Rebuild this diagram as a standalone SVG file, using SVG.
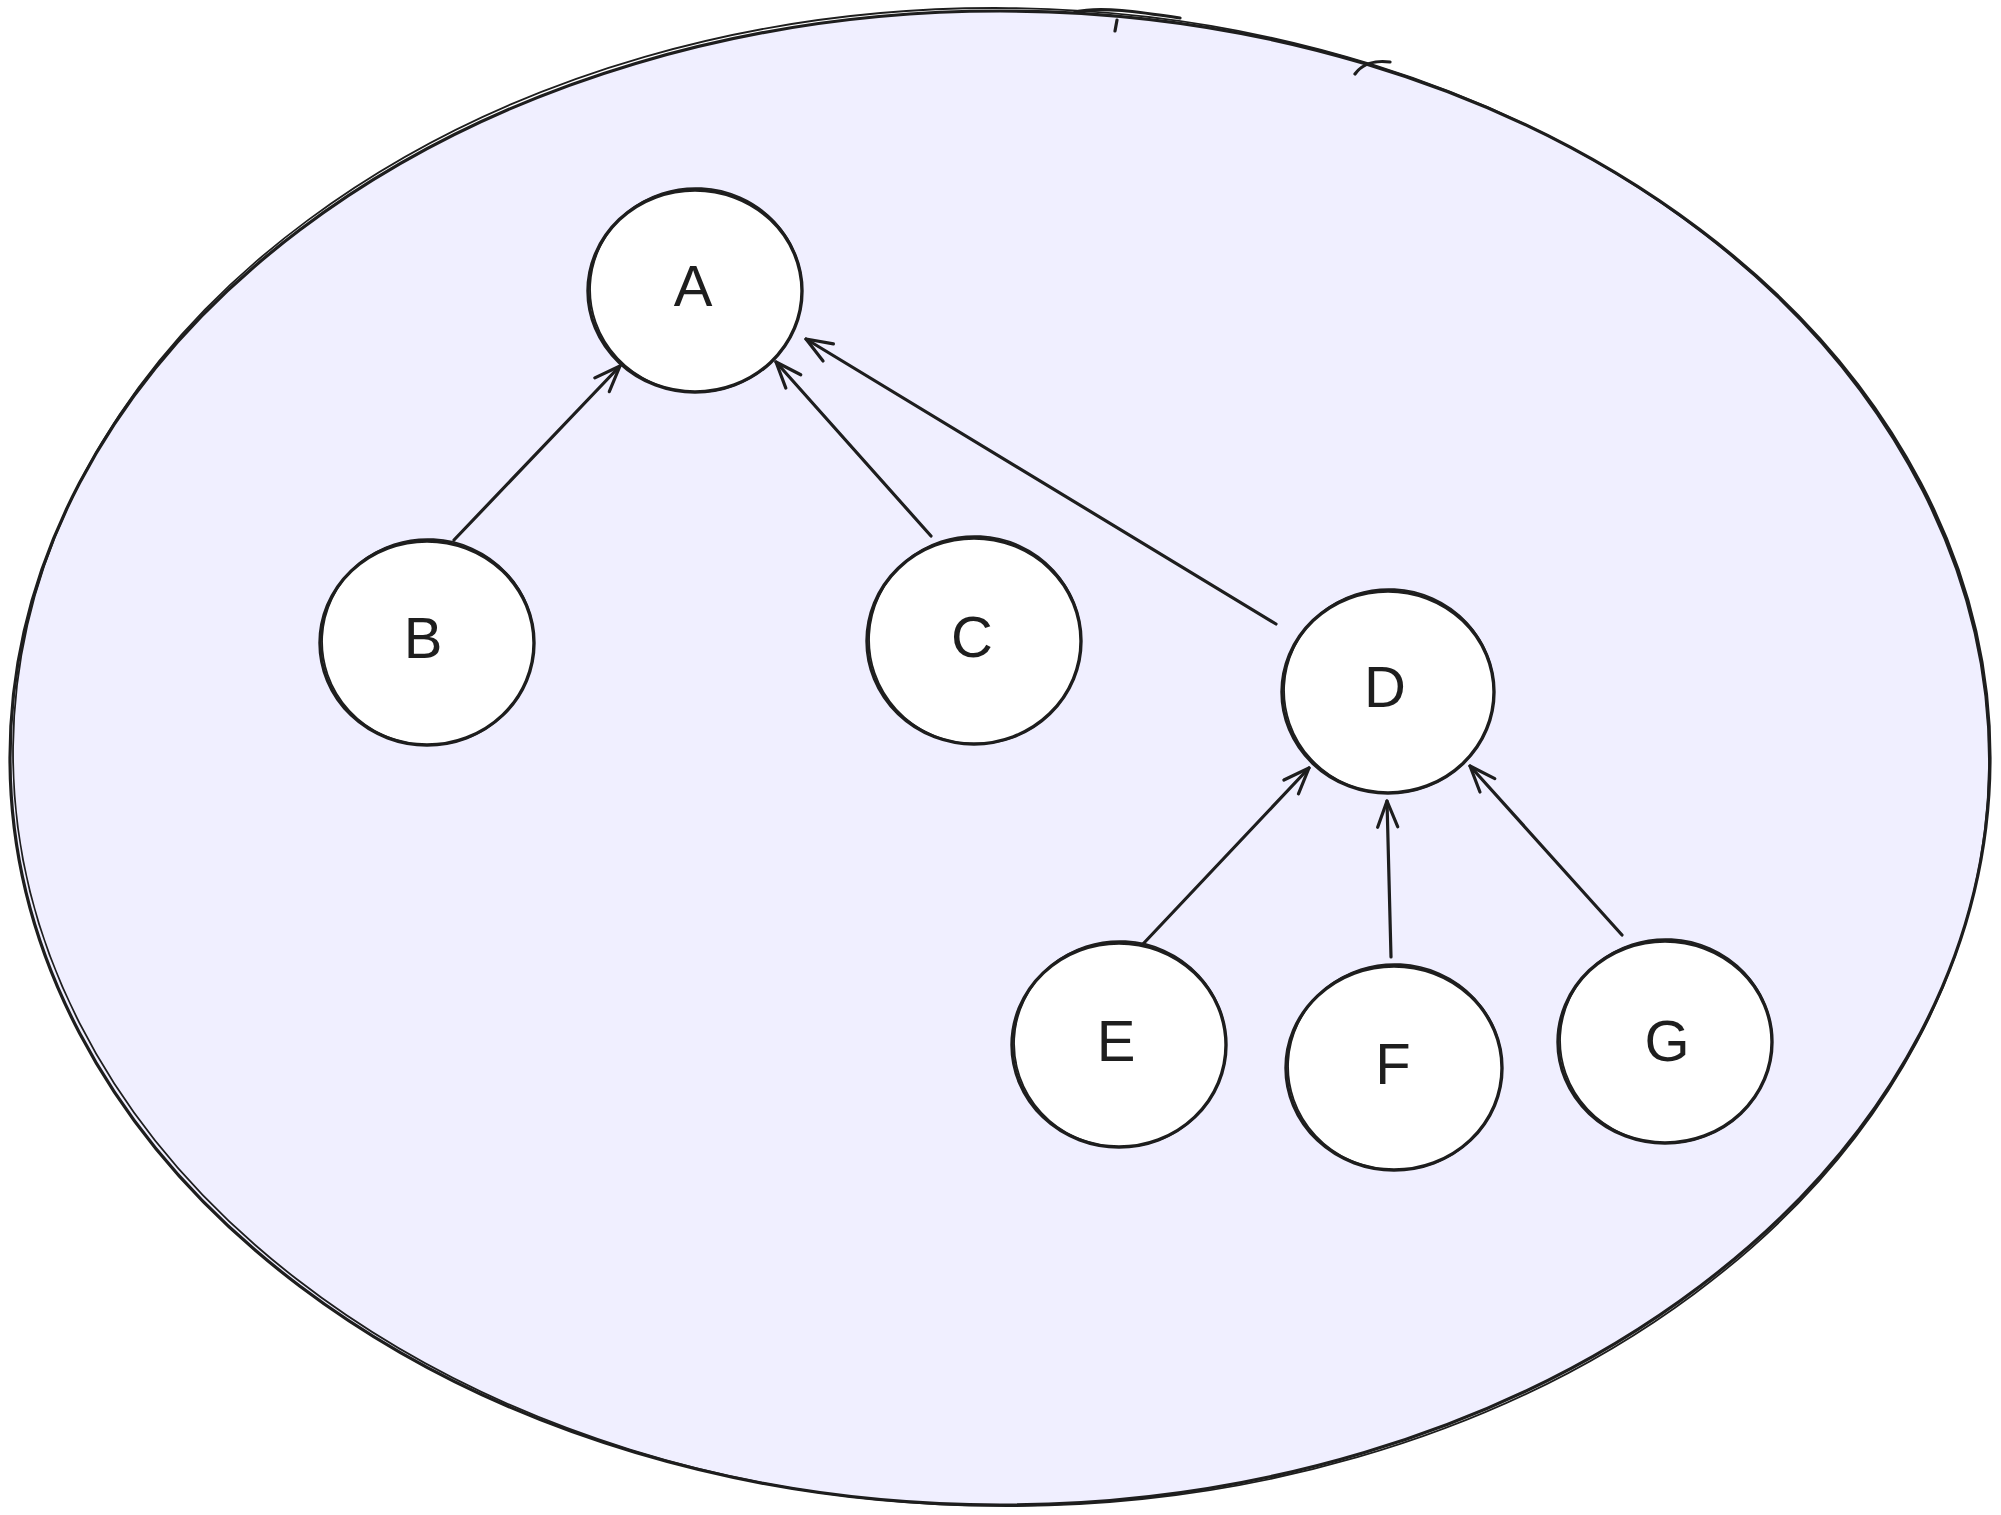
<svg xmlns="http://www.w3.org/2000/svg" width="2001" height="1515" viewBox="0 0 2001 1515">
  <style>
    .ink { fill: none; stroke: #1e1e1e; stroke-width: 3.2; stroke-linecap: round; stroke-linejoin: round; }
    .node { fill: #ffffff; stroke: #1e1e1e; stroke-width: 3.4; }
    .node2 { fill: none; stroke: #1e1e1e; stroke-width: 1.8; }
    .lbl { font-family: "Liberation Sans", Arial, sans-serif; font-size: 58px; fill: #1e1e1e; text-anchor: middle; dominant-baseline: central; }
  </style>
  <defs>
    <marker id="open" viewBox="0 0 30 24" refX="28" refY="12" markerWidth="30" markerHeight="24" markerUnits="userSpaceOnUse" orient="auto">
      <path d="M2 2 L28 12 L2 22" fill="none" stroke="#1e1e1e" stroke-width="3.2" stroke-linecap="round" stroke-linejoin="round"/>
    </marker>
  </defs>
  <rect width="2001" height="1515" fill="#ffffff"/>

  <!-- outer boundary -->
  <g id="boundary">
    <ellipse cx="1000" cy="758" rx="990" ry="747" fill="#f0efff" stroke="#1e1e1e" stroke-width="3.2"/>
    <ellipse cx="1001" cy="757" rx="988" ry="749" transform="rotate(0.6 1000 758)" fill="none" stroke="#1e1e1e" stroke-width="1.8"/>
    <path class="ink" d="M1075 12 C1100 6 1140 12 1180 18 M1117 20 L1115 31 M1355 74 C1362 64 1375 60 1390 62"/>
  </g>

  <!-- connectors -->
  <g id="connectors" class="ink">
    <line x1="454" y1="540" x2="620" y2="366" marker-end="url(#open)"/>
    <line x1="931" y1="536" x2="776" y2="362" marker-end="url(#open)"/>
    <line x1="1276" y1="624" x2="806" y2="339" marker-end="url(#open)"/>
    <line x1="1143" y1="944" x2="1309" y2="768" marker-end="url(#open)"/>
    <line x1="1391" y1="957" x2="1387" y2="801" marker-end="url(#open)"/>
    <line x1="1622" y1="935" x2="1470" y2="766" marker-end="url(#open)"/>
  </g>

  <g id="node-A">
    <ellipse class="node" cx="695" cy="291" rx="107" ry="101"/>
    <ellipse class="node2" cx="696" cy="290" rx="106" ry="102" transform="rotate(3 695 291)"/>
    <text class="lbl" x="693" y="285">A</text>
  </g>
  <g id="node-B">
    <ellipse class="node" cx="427" cy="643" rx="107" ry="102"/>
    <ellipse class="node2" cx="428" cy="642" rx="106" ry="103" transform="rotate(3 427 643)"/>
    <text class="lbl" x="423" y="637">B</text>
  </g>
  <g id="node-C">
    <ellipse class="node" cx="974" cy="641" rx="107" ry="103"/>
    <ellipse class="node2" cx="975" cy="640" rx="106" ry="104" transform="rotate(3 974 641)"/>
    <text class="lbl" x="972" y="636">C</text>
  </g>
  <g id="node-D">
    <ellipse class="node" cx="1388" cy="692" rx="106" ry="101"/>
    <ellipse class="node2" cx="1389" cy="691" rx="105" ry="102" transform="rotate(3 1388 692)"/>
    <text class="lbl" x="1385" y="686">D</text>
  </g>
  <g id="node-E">
    <ellipse class="node" cx="1119" cy="1045" rx="107" ry="102"/>
    <ellipse class="node2" cx="1120" cy="1044" rx="106" ry="103" transform="rotate(3 1119 1045)"/>
    <text class="lbl" x="1116" y="1040">E</text>
  </g>
  <g id="node-F">
    <ellipse class="node" cx="1394" cy="1068" rx="108" ry="102"/>
    <ellipse class="node2" cx="1395" cy="1067" rx="107" ry="103" transform="rotate(3 1394 1068)"/>
    <text class="lbl" x="1393" y="1063">F</text>
  </g>
  <g id="node-G">
    <ellipse class="node" cx="1665" cy="1042" rx="107" ry="101"/>
    <ellipse class="node2" cx="1666" cy="1041" rx="106" ry="102" transform="rotate(3 1665 1042)"/>
    <text class="lbl" x="1667" y="1040">G</text>
  </g>
</svg>
